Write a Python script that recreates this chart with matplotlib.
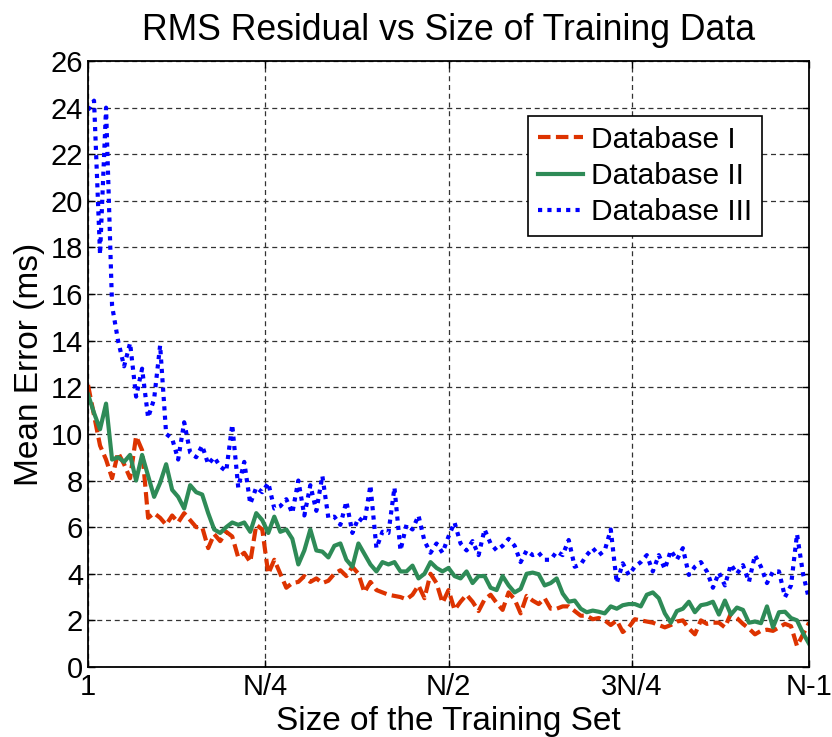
import matplotlib
matplotlib.use("Agg")
import matplotlib.pyplot as plt
import numpy as np

plt.rcParams['font.family'] = ['Liberation Sans', 'DejaVu Sans']

# training set size index runs 1 .. N-1 (N = 122)
N = 122
sizes = np.arange(1, N)

db1 = [12.1, 10.8, 9.5, 8.9, 8.1, 9.2, 8.7, 8.1, 9.9, 9.3,
       6.4, 6.6, 6.4, 6.1, 6.5, 6.2, 6.6, 6.3, 6.0, 6.0,
       5.1, 5.7, 5.4, 5.8, 5.6, 4.7, 4.9, 4.5, 6.1, 5.9,
       4.0, 4.6, 4.0, 3.4, 3.6, 3.65, 3.9, 3.65, 3.8, 3.6,
       3.7, 4.0, 4.15, 3.9, 4.3, 4.0, 3.2, 3.65, 3.3, 3.2,
       3.1, 3.05, 3.0, 2.9, 3.1, 3.5, 2.95, 4.0, 3.6, 2.75,
       3.3, 2.45, 2.8, 3.1, 2.8, 2.4, 2.9, 3.1, 2.75, 2.45,
       3.2, 2.9, 2.3, 3.05, 2.85, 2.7, 2.95, 2.5, 2.5, 2.6,
       2.6, 2.4, 2.2, 2.2, 2.05, 2.1, 2.0, 1.8, 2.0, 1.5,
       1.7, 2.05, 2.0, 1.95, 1.9, 1.8, 1.7, 1.8, 1.95, 2.0,
       1.65, 1.4, 2.0, 1.85, 1.9, 1.9, 1.7, 2.3, 2.1, 1.85,
       1.65, 1.4, 1.55, 1.6, 1.55, 1.7, 1.85, 1.75, 0.9, 1.4,
       1.9]

db2 = [11.7, 10.9, 10.2, 11.3, 8.9, 9.0, 8.8, 9.1, 8.0, 9.1,
       8.2, 7.3, 7.9, 8.7, 7.6, 7.3, 6.8, 7.8, 7.5, 7.4,
       6.6, 5.9, 5.75, 6.0, 6.2, 6.1, 6.2, 5.8, 6.6, 6.3,
       5.75, 6.45, 5.8, 5.9, 5.5, 4.4, 5.0, 5.9, 5.0, 4.95,
       4.7, 5.2, 5.3, 4.6, 4.3, 5.3, 4.85, 4.4, 4.1, 4.5,
       4.4, 4.5, 4.1, 4.1, 4.35, 3.8, 4.0, 4.5, 4.25, 4.1,
       4.25, 3.9, 3.8, 4.1, 3.6, 3.9, 3.9, 3.4, 3.3, 3.9,
       3.5, 3.2, 3.35, 4.0, 4.05, 3.98, 3.5, 3.6, 3.8, 3.15,
       2.8, 2.85, 2.5, 2.35, 2.42, 2.37, 2.3, 2.6, 2.5, 2.65,
       2.7, 2.7, 2.6, 3.1, 3.2, 2.95, 2.3, 1.9, 2.4, 2.5,
       2.8, 2.35, 2.65, 2.7, 2.8, 2.25, 2.85, 2.25, 2.55, 2.45,
       1.9, 1.95, 1.88, 2.6, 1.7, 2.35, 2.37, 2.1, 2.0, 1.45,
       1.0]

db3 = [23.9, 24.3, 17.7, 24.0, 15.5, 14.0, 12.9, 13.9, 11.6, 12.8,
       10.7, 11.5, 13.8, 10.0, 9.8, 8.9, 10.5, 9.2, 9.0, 9.5,
       8.7, 9.0, 8.6, 8.4, 10.4, 7.7, 8.8, 7.0, 7.7, 7.5,
       7.9, 6.8, 6.9, 7.2, 6.6, 8.0, 6.5, 7.8, 6.7, 8.2,
       6.4, 6.45, 6.1, 7.1, 5.75, 6.4, 6.2, 7.8, 5.1, 5.8,
       5.75, 7.7, 5.0, 6.1, 5.9, 6.5, 5.4, 4.9, 5.3, 4.9,
       5.6, 6.2, 5.3, 5.0, 5.4, 4.8, 5.9, 5.3, 5.0, 5.2,
       5.5, 5.2, 4.5, 5.0, 4.8, 4.9, 4.6, 4.6, 4.95, 4.8,
       5.45, 4.3, 4.4, 4.8, 5.1, 4.8, 5.0, 5.9, 3.6, 4.45,
       3.95, 4.3, 4.5, 4.8, 4.1, 4.8, 4.2, 5.0, 4.6, 5.1,
       3.95, 4.3, 4.5, 4.1, 3.4, 4.05, 3.5, 4.4, 4.0, 4.37,
       3.65, 4.8, 4.3, 3.6, 4.1, 4.1, 3.0, 3.5, 5.7, 4.0,
       2.9]

xtick_pos = [1, N / 4, N / 2, 3 * N / 4, N - 1]
xtick_labels = ['1', 'N/4', 'N/2', '3N/4', 'N-1']

fig = plt.figure(figsize=(8.32, 7.37), dpi=100)
ax = fig.add_axes([0.1058, 0.095, 0.8666, 0.8222])

ax.plot(sizes, db1, color='#dd3300', lw=3, dashes=(3, 1.3), label='Database I')
ax.plot(sizes, db2, color='#2e8b57', lw=3, label='Database II')
ax.plot(sizes, db3, color='#0000ff', lw=3, dashes=(1, 1.25), label='Database III')

ax.set_xlim(1, N - 1)
ax.set_ylim(0, 26)
ax.set_xticks(xtick_pos)
ax.set_xticklabels(xtick_labels)
ax.set_yticks(np.arange(0, 27, 2))
ax.tick_params(direction='in', top=True, right=True, labelsize=21, length=5, width=1)
ax.tick_params(axis='x', pad=4)
ax.grid(True, color='0.2', linestyle=(0, (4, 3)), lw=0.9)
for s in ax.spines.values():
    s.set_linewidth(1.3)

ax.set_title('RMS Residual vs Size of Training Data', fontsize=25.7, pad=15)
ax.set_xlabel('Size of the Training Set', fontsize=24, labelpad=4)
ax.set_ylabel('Mean Error (ms)', fontsize=24, labelpad=4)

leg = ax.legend(loc='upper right', bbox_to_anchor=(0.935, 0.909), borderaxespad=0,
                fontsize=21.5, frameon=True, fancybox=False, edgecolor='black', framealpha=1,
                handlelength=1.5, handletextpad=0.3, labelspacing=0.28, borderpad=0.32)
leg.get_frame().set_linewidth(1.2)

fig.savefig('out.png', dpi=100)
